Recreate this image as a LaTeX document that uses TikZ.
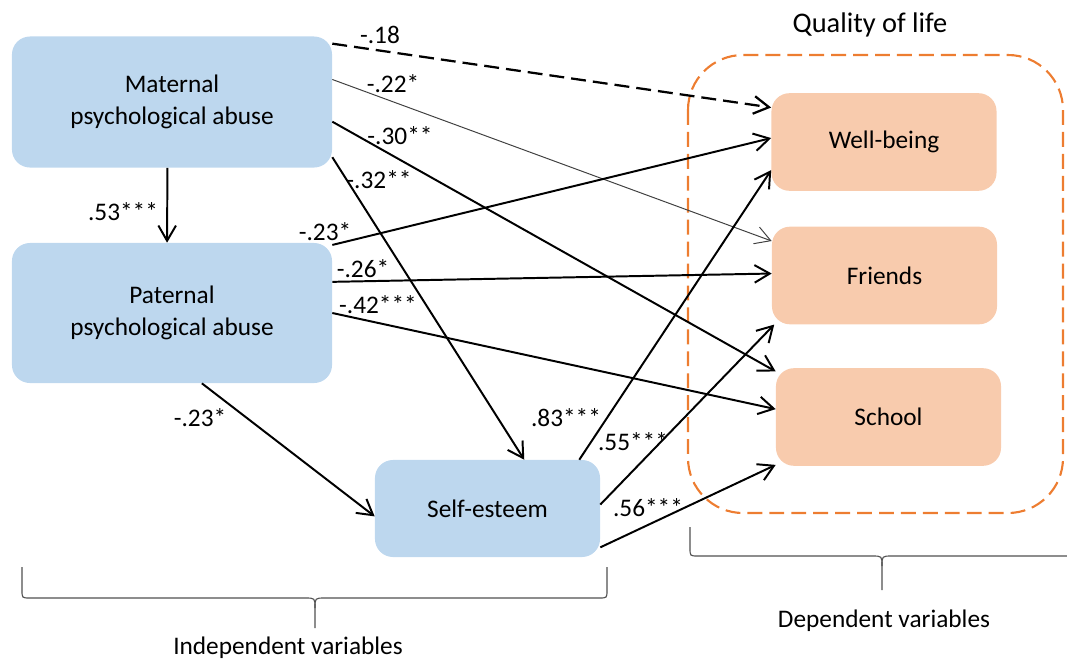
\documentclass[tikz,border=0pt]{standalone}
\usepackage{fontspec}
\setmainfont{Carlito}
\usetikzlibrary{arrows.meta}

\definecolor{indblue}{RGB}{189,215,238}
\definecolor{deporange}{RGB}{248,203,173}
\definecolor{frameorange}{RGB}{237,125,49}
\definecolor{bracegray}{RGB}{80,80,80}

\begin{document}
\begin{tikzpicture}[x=0.025cm,y=-0.025cm,
    font=\fontsize{18}{22.8}\selectfont,
    brace/.style={draw=bracegray,line width=0.8pt},
    longdash/.style={dash pattern=on 10.6pt off 5pt}]

      \useasboundingbox (0,0) rectangle (1067,660);

      % quality of life frame
      \draw[frameorange,line width=1.5pt,longdash,rounded corners=1.375cm]
        (688,55) rectangle (1063,513);
      \node[font=\fontsize{20.2}{24}\selectfont] (qol) at (870,25) {Quality of life};

      \begin{scope}[every node/.style={rectangle,rounded corners=0.45cm,fill=indblue,align=center,inner sep=0pt}]
        \node[minimum width=8cm,minimum height=3.275cm] (mat)  at (172,102)   {Maternal\\psychological abuse};
        \node[minimum width=8cm,minimum height=3.5cm]   (pat)  at (172,313)   {Paternal\\psychological abuse};
        \node[minimum width=5.625cm,minimum height=2.425cm] (self) at (487.5,508.5) {Self-esteem};
      \end{scope}

      \begin{scope}[every node/.style={rectangle,rounded corners=0.45cm,fill=deporange,inner sep=0pt,
                                      minimum width=5.625cm,minimum height=2.44cm}]
        \node (well) at (884,142)   {Well-being};
        \node (fri)  at (884.5,275.5) {Friends};
        \node (sch)  at (888.5,417) {School};
      \end{scope}

      \begin{scope}[every edge/.style={draw,line width=1.4pt,-{Straight Barb[length=0.38cm,width=0.44cm]}}]
        \path (mat.20)  edge[longdash,line width=1.6pt] (well.163);
        \path (mat.8)   edge[line width=0.7pt,black!75]  (fri.163);
        \path (mat.353) edge (sch.158);
        \path (mat.341) edge (self.53);
        \path (mat.266) edge (pat.94);
        \path (pat.23)  edge (well.178);
        \path (pat.11)  edge (fri.179);
        \path (pat.east) edge (sch.176);
        \path (pat.293) edge (self.184);
        \path (self.28) edge (well.194);
        \path (self.2)  edge (fri.204);
        \path (self.341) edge (sch.203);
      \end{scope}

      \begin{scope}[every node/.style={inner sep=1pt}]
        \node (l1)  at (380,35)  {-.18};
        \node (l2)  at (393,84)  {-.22*};
        \node (l3)  at (400,136) {-.30**};
        \node (l4)  at (379,180) {-.32**};
        \node (l5)  at (123,212) {.53***};
        \node (l6)  at (325,232) {-.23*};
        \node (l7)  at (363,269) {-.26*};
        \node (l8)  at (378,305) {-.42***};
        \node (l9)  at (200,418) {-.23*};
        \node (l10) at (566,418) {.83***};
        \node (l11) at (633,442) {.55***};
        \node (l12) at (648,508) {.56***};
      \end{scope}

      % braces
      \draw[brace] (22,567) -- (22,590) .. controls (22,598) .. (30,598) -- (305,598)
        .. controls (315,598) .. (315,608) -- (315,628);
      \draw[brace] (607,567) -- (607,590) .. controls (607,598) .. (599,598) -- (325,598)
        .. controls (315,598) .. (315,608);
      \draw[brace] (690,527) -- (690,548) .. controls (690,556) .. (698,556) -- (872,556)
        .. controls (882,556) .. (882,566) -- (882,590);
      \draw[brace] (1074,527) -- (1074,548) .. controls (1074,556) .. (1066,556) -- (892,556)
        .. controls (882,556) .. (882,566);
      \node (indvar) at (288,648) {Independent variables};
      \node (depvar) at (884,621) {Dependent variables};

    \end{tikzpicture}
\end{document}
